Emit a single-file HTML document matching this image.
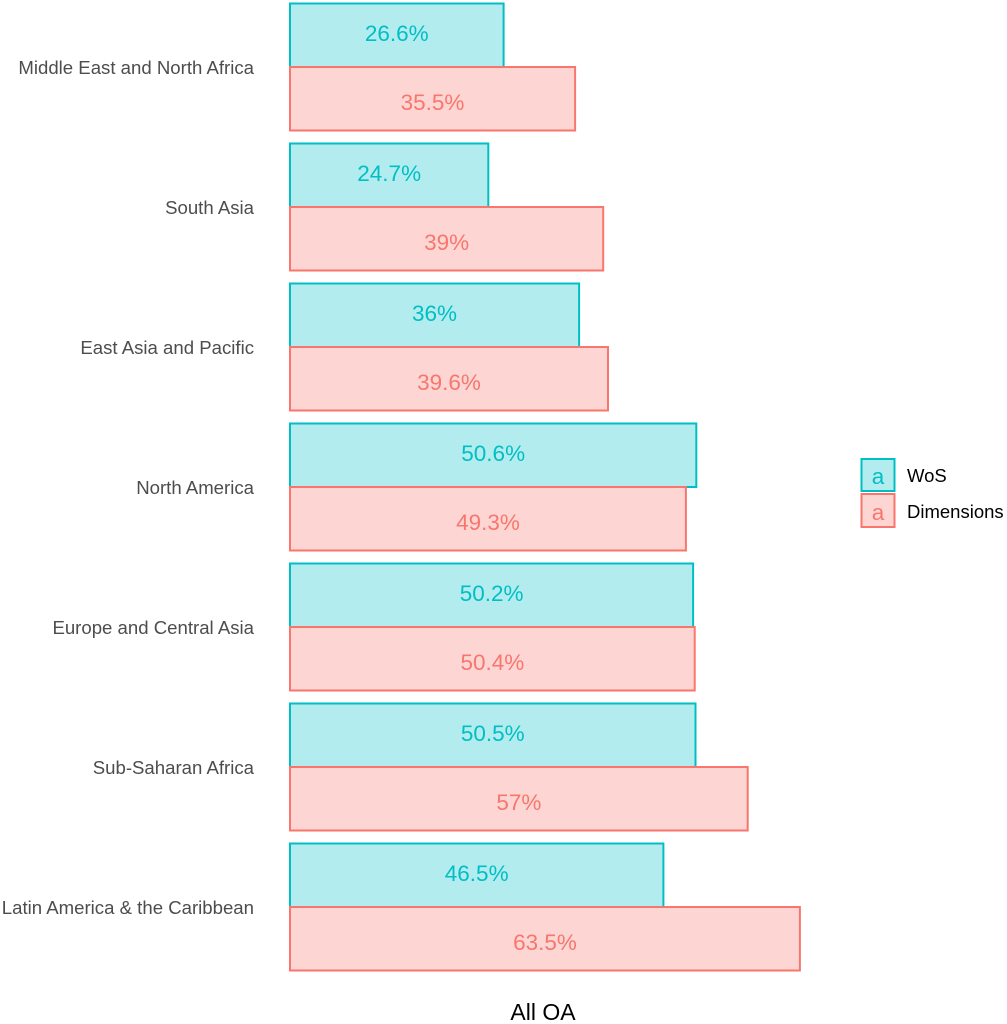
<!DOCTYPE html>
<html><head><meta charset="utf-8"><style>
html,body{margin:0;padding:0;background:#fff;}
svg{display:block;font-family:"Liberation Sans",Arial,sans-serif;}
.lab{font-size:18.6px;fill:#4d4d4d;text-anchor:end;}
.w{fill:#b3ecee;stroke:#00BFC4;stroke-width:2;}
.d{fill:#fdd6d3;stroke:#F8766D;stroke-width:2;}
.tw{fill:#00BFC4;font-size:22.5px;text-anchor:middle;}
.td{fill:#F8766D;font-size:22.5px;text-anchor:middle;}
</style></head><body>
<svg width="1007" height="1024" viewBox="0 0 1007 1024">
<g transform="translate(0,0)">
<rect class="w" x="290" y="3.5" width="213.6" height="63.5"/>
<rect class="d" x="290" y="67" width="285.1" height="63.5"/>
<text class="tw" x="396.8" y="41">26.6%</text>
<text class="td" x="432.5" y="110">35.5%</text>
<text class="lab" x="254" y="74">Middle East and North Africa</text>
</g>
<g transform="translate(0,140)">
<rect class="w" x="290" y="3.5" width="198.3" height="63.5"/>
<rect class="d" x="290" y="67" width="313.2" height="63.5"/>
<text class="tw" x="389.2" y="41">24.7%</text>
<text class="td" x="446.6" y="110">39%</text>
<text class="lab" x="254" y="74">South Asia</text>
</g>
<g transform="translate(0,280)">
<rect class="w" x="290" y="3.5" width="289.1" height="63.5"/>
<rect class="d" x="290" y="67" width="318" height="63.5"/>
<text class="tw" x="434.5" y="41">36%</text>
<text class="td" x="449" y="110">39.6%</text>
<text class="lab" x="254" y="74">East Asia and Pacific</text>
</g>
<g transform="translate(0,420)">
<rect class="w" x="290" y="3.5" width="406.3" height="63.5"/>
<rect class="d" x="290" y="67" width="395.9" height="63.5"/>
<text class="tw" x="493.2" y="41">50.6%</text>
<text class="td" x="488" y="110">49.3%</text>
<text class="lab" x="254" y="74">North America</text>
</g>
<g transform="translate(0,560)">
<rect class="w" x="290" y="3.5" width="403.1" height="63.5"/>
<rect class="d" x="290" y="67" width="404.7" height="63.5"/>
<text class="tw" x="491.6" y="41">50.2%</text>
<text class="td" x="492.4" y="110">50.4%</text>
<text class="lab" x="254" y="74">Europe and Central Asia</text>
</g>
<g transform="translate(0,700)">
<rect class="w" x="290" y="3.5" width="405.5" height="63.5"/>
<rect class="d" x="290" y="67" width="457.7" height="63.5"/>
<text class="tw" x="492.8" y="41">50.5%</text>
<text class="td" x="518.9" y="110">57%</text>
<text class="lab" x="254" y="74">Sub-Saharan Africa</text>
</g>
<g transform="translate(0,840)">
<rect class="w" x="290" y="3.5" width="373.4" height="63.5"/>
<rect class="d" x="290" y="67" width="509.9" height="63.5"/>
<text class="tw" x="476.7" y="41">46.5%</text>
<text class="td" x="545" y="110">63.5%</text>
<text class="lab" x="254" y="74">Latin America &amp; the Caribbean</text>
</g>
<text x="543" y="1020" style="font-size:23px;fill:#000;text-anchor:middle">All OA</text>
<rect class="w" x="861.5" y="459" width="33" height="32"/>
<text class="tw" x="878" y="484">a</text>
<rect class="d" x="861.5" y="494" width="33" height="33"/>
<text class="td" x="878" y="520">a</text>
<text x="907" y="482" style="font-size:18.5px;fill:#000">WoS</text>
<text x="907" y="518" style="font-size:18.5px;fill:#000">Dimensions</text>
</svg>
</body></html>
